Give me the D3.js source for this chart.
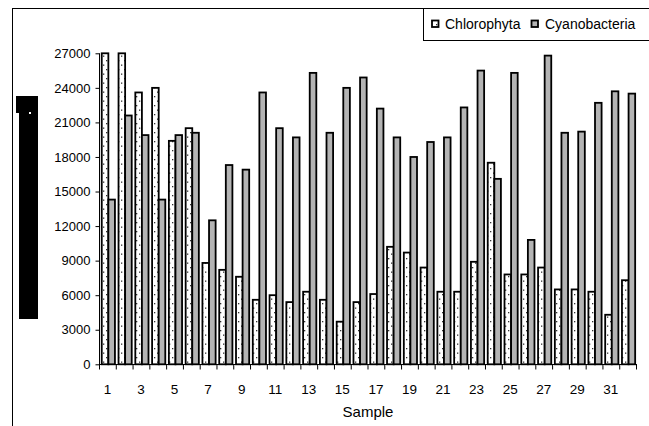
<!DOCTYPE html>
<html><head><meta charset="utf-8">
<script src="https://cdn.jsdelivr.net/npm/d3@7"></script>
<style>html,body{margin:0;padding:0;background:#fff;}svg{display:block;font-family:"Liberation Sans",Arial,sans-serif;}</style>
</head><body>
<svg id="c" width="649" height="426"></svg>
<script>
const samples = ["1","2","3","4","5","6","7","8","9","10","11","12","13","14","15","16","17","18","19","20","21","22","23","24","25","26","27","28","29","30","31","32"];
const chlorophyta = [27000,27000,23600,24000,19400,20500,8800,8200,7600,5600,6000,5400,6300,5600,3700,5400,6100,10200,9700,8400,6300,6300,8900,17500,7800,7800,8400,6500,6500,6300,4300,7300];
const cyanobacteria = [14300,21600,19900,14300,19900,20100,12500,17300,16900,23600,20500,19700,25300,20100,24000,24900,22200,19700,18000,19300,19700,22300,25500,16100,25300,10800,26800,20100,20200,22700,23700,23500];
const yTicks = [0,3000,6000,9000,12000,15000,18000,21000,24000,27000];
const seriesNames = ["Chlorophyta","Cyanobacteria"];
const xLabelShown = ["1","3","5","7","9","11","13","15","17","19","21","23","25","27","29","31"];

const svg = d3.select("#c");
const defs = svg.append("defs");
const pat = defs.append("pattern").attr("id","dots").attr("patternUnits","userSpaceOnUse")
  .attr("width",6).attr("height",9);
pat.append("rect").attr("width",6).attr("height",9).attr("fill","#fff");
pat.append("rect").attr("x",1).attr("y",1.5).attr("width",1.3).attr("height",1.3).attr("fill","#333");
pat.append("rect").attr("x",4).attr("y",6).attr("width",1.3).attr("height",1.3).attr("fill","#333");

const fills = ["url(#dots)","#b4b4b4"];

// outer frame
svg.append("rect").attr("x",12.5).attr("y",8.5).attr("width",700).attr("height",500)
  .attr("fill","none").attr("stroke","#000").attr("stroke-width",1);

const x = d3.scaleBand().domain(samples).range([99,636]).padding(0);
const y = d3.scaleLinear().domain([0,27000]).range([364.3,53.3]);
const bw = x.bandwidth();
const off = 0.164*bw, b = 0.393*bw;

const series = [chlorophyta, cyanobacteria];
series.forEach((vals,si)=>{
  svg.append("g").selectAll("rect").data(samples).join("rect")
    .attr("x",(d)=>x(d)+off+si*b)
    .attr("y",(d,i)=>y(vals[i]))
    .attr("width",b)
    .attr("height",(d,i)=>y(0)-y(vals[i]))
    .attr("fill",fills[si])
    .attr("stroke","#000").attr("stroke-width",1.8);
});

// y axis
const yAxis = d3.axisLeft(y).tickValues(yTicks).tickSize(4).tickPadding(5).tickFormat(d3.format("d"));
const gy = svg.append("g").attr("transform","translate(99.5,0)").call(yAxis);
gy.select(".domain").attr("stroke","#000").attr("d","M0,53.3V364.3");
gy.selectAll("text").attr("font-size","13px").attr("fill","#000").attr("font-family","Liberation Sans, Arial, sans-serif");

// x axis with ticks at category boundaries
svg.append("line").attr("x1",99).attr("x2",636.5).attr("y1",364.5).attr("y2",364.5).attr("stroke","#000");
const bounds = samples.map(d=>x(d)).concat([x(samples[samples.length-1])+bw]);
svg.append("g").selectAll("line").data(bounds).join("line")
  .attr("x1",d=>d+0.5).attr("x2",d=>d+0.5).attr("y1",364).attr("y2",369.5).attr("stroke","#000");
svg.append("g").selectAll("text").data(xLabelShown).join("text")
  .attr("x",d=>x(d)+bw/2).attr("y",394).attr("text-anchor","middle")
  .attr("font-size","13.5px").attr("fill","#000").text(d=>d);

svg.append("text").attr("x",368).attr("y",417).attr("text-anchor","middle")
  .attr("font-size","15px").attr("fill","#000").text("Sample");

// left black block (obscured axis title)
const blob = svg.append("g").attr("fill","#000");
blob.append("rect").attr("x",16).attr("y",96).attr("width",22).attr("height",7);
blob.append("rect").attr("x",16).attr("y",96).attr("width",6).attr("height",17);
blob.append("rect").attr("x",19).attr("y",103).attr("width",19).attr("height",216);
blob.append("rect").attr("x",29).attr("y",112).attr("width",2).attr("height",2).attr("fill","#fff");

// legend
svg.append("rect").attr("x",423.5).attr("y",8.5).attr("width",300).attr("height",32)
  .attr("fill","#fff").attr("stroke","#000").attr("stroke-width",1);
const lx = [432, 531.5], tx = [445, 545];
seriesNames.forEach((n,i)=>{
  svg.append("rect").attr("x",lx[i]).attr("y",20.5).attr("width",6.5).attr("height",6.5)
    .attr("fill",fills[i]).attr("stroke","#000").attr("stroke-width",1.8);
  svg.append("text").attr("x",tx[i]).attr("y",29).attr("font-size","14px").attr("fill","#000").text(n);
});
</script>
</body></html>
